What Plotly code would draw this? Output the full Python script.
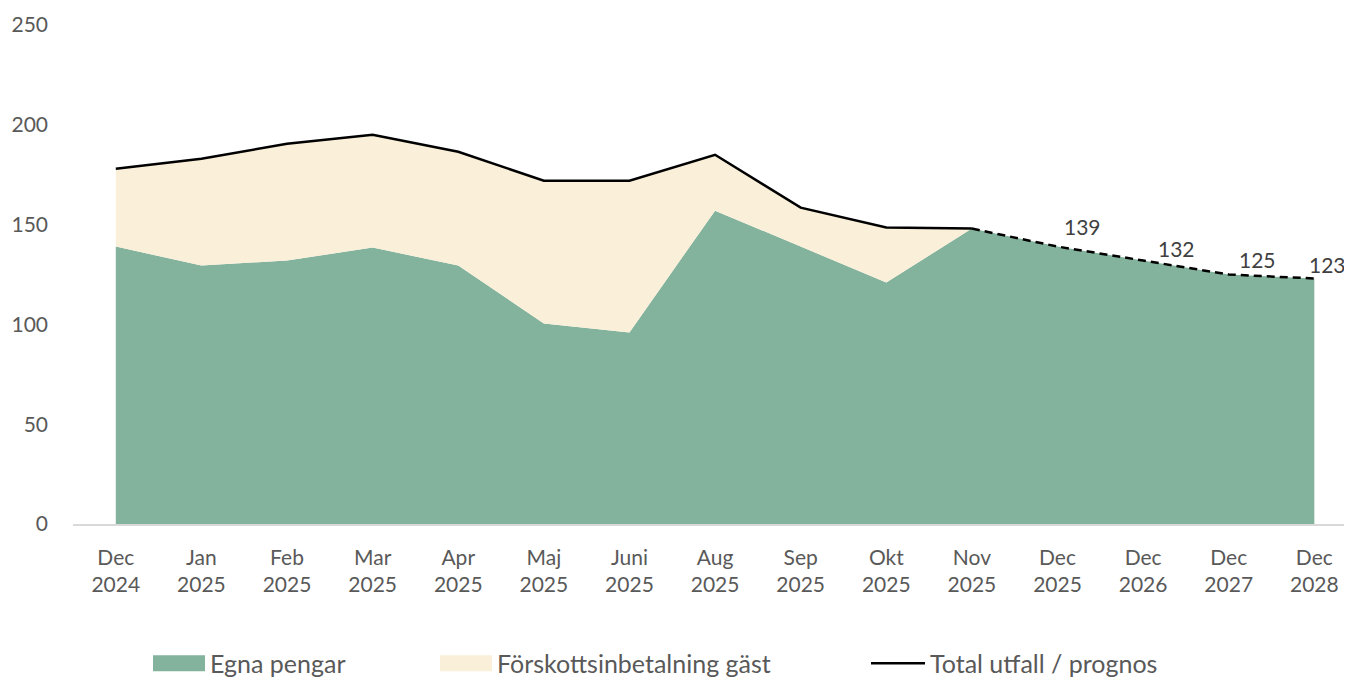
import plotly.graph_objects as go

# ---- data ----
categories = ["Dec<br>2024", "Jan<br>2025", "Feb<br>2025", "Mar<br>2025", "Apr<br>2025",
              "Maj<br>2025", "Juni<br>2025", "Aug<br>2025", "Sep<br>2025", "Okt<br>2025",
              "Nov<br>2025", "Dec<br>2025", "Dec<br>2026", "Dec<br>2027", "Dec<br>2028"]
egna_pengar = [139, 129.5, 132, 138.5, 129.5, 100.5, 96, 157, 139, 121, 148, 139, 132, 125, 123]
total = [178, 183, 190.5, 195, 186.5, 172, 172, 185, 158.5, 148.5, 148, 139, 132, 125, 123]
n_actual = 11  # Dec 2024 .. Nov 2025 are outcomes, rest is forecast
forecast_labels = [139, 132, 125, 123]
y_ticks = [0, 50, 100, 150, 200, 250]

GREEN = "#83B29D"
CREAM = "#FAEFD8"
TXT = "#595959"
FONT = "Lato"
FS = 21
FS_LEG = 25

# page body has an 8px margin; figure is sized to fit the window
OFF = 8
FIG_W, FIG_H = 1352 - OFF, 679 - OFF
L = 73 - OFF
TOP = 24.5 - OFF
H = 500
W = FIG_W - L

fig = go.Figure()
fig.add_trace(go.Scatter(x=categories, y=egna_pengar, mode="lines", line=dict(width=0, color=GREEN),
                         fill="tozeroy", fillcolor=GREEN, name="Egna pengar", showlegend=False,
                         hoverinfo="skip"))
fig.add_trace(go.Scatter(x=categories, y=total, mode="lines", line=dict(width=0, color=CREAM),
                         fill="tonexty", fillcolor=CREAM, name="Förskottsinbetalning gäst",
                         showlegend=False, hoverinfo="skip"))
fig.add_trace(go.Scatter(x=categories[:n_actual], y=total[:n_actual], mode="lines",
                         line=dict(width=2.5, color="black"), name="Total utfall / prognos",
                         showlegend=False))
fig.add_trace(go.Scatter(x=categories[n_actual - 1:], y=total[n_actual - 1:], mode="lines",
                         line=dict(width=2.5, color="black", dash="8px,5px"), showlegend=False))

label_dx = [25, 33, 29, 13]
label_dy = [20, 12, 15, 14]
for i, v in enumerate(forecast_labels):
    fig.add_annotation(x=categories[n_actual + i], y=v, text=str(v), showarrow=False,
                       xshift=label_dx[i], yshift=label_dy[i], yanchor="middle",
                       font=dict(family=FONT, size=FS, color="#404040"))

# ---- custom legend (layout only), positions given in window pixels ----
def px(xp):
    return (xp - OFF - L) / W
def py(yp):
    return (TOP + H - (yp - OFF)) / H

legend_items = [("rect", GREEN, 153, 205, "Egna pengar"),
                ("rect", CREAM, 440, 492, "Förskottsinbetalning gäst"),
                ("line", "black", 871, 925, "Total utfall / prognos")]
for kind, col, x0, x1, label in legend_items:
    if kind == "rect":
        fig.add_shape(type="rect", xref="paper", yref="paper", x0=px(x0), x1=px(x1),
                      y0=py(672), y1=py(656), fillcolor=col, line=dict(width=0))
    else:
        fig.add_shape(type="line", xref="paper", yref="paper", x0=px(x0), x1=px(x1),
                      y0=py(664), y1=py(664), line=dict(color=col, width=2.5))
    fig.add_annotation(xref="paper", yref="paper", x=px(x1 + 3), y=py(664), text=label,
                       showarrow=False, xanchor="left", yanchor="middle",
                       font=dict(family=FONT, size=FS_LEG, color=TXT))

fig.update_layout(
    width=FIG_W, height=FIG_H,
    margin=dict(l=L, r=0, t=TOP, b=FIG_H - TOP - H, pad=0),
    plot_bgcolor="white", paper_bgcolor="white",
    font=dict(family=FONT, size=FS, color=TXT),
    showlegend=False,
    xaxis=dict(type="category", range=[-0.5, 14.44], showline=True, linecolor="#D9D9D9",
               linewidth=1.5, showgrid=False, ticks="", tickfont=dict(size=FS, color=TXT),
               ticklabelstandoff=14),
    yaxis=dict(range=[0, 250], tickvals=y_ticks, showgrid=False, zeroline=False, ticks="",
               showline=False, tickfont=dict(size=FS, color=TXT), ticklabelstandoff=24),
)
fig.write_html("out.html")
